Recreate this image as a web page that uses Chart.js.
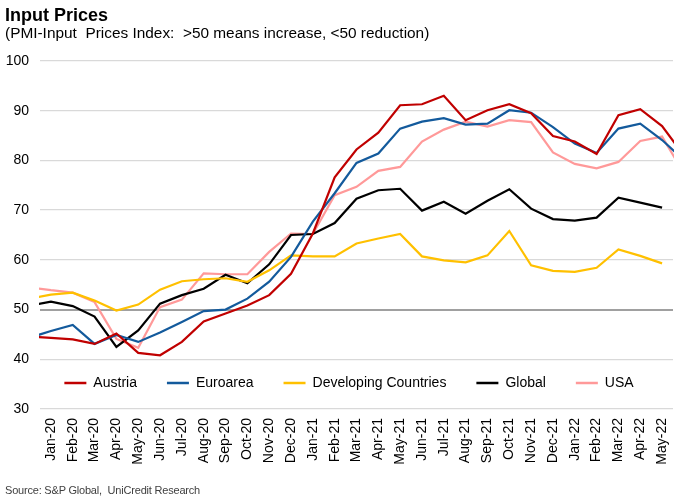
<!DOCTYPE html>
<html>
<head>
<meta charset="utf-8">
<script src="https://cdn.jsdelivr.net/npm/chart.js@4.4.1/dist/chart.umd.min.js"></script>
<style>
html,body{margin:0;padding:0;background:#ffffff;}
#wrap{position:relative;width:698px;height:504px;overflow:hidden;font-family:"Liberation Sans",Arial,sans-serif;}
#c{position:absolute;left:0;top:0;}
.t{position:absolute;left:5px;white-space:pre;color:#000;}
</style>
</head>
<body>
<div id="wrap">
<canvas id="c" width="698" height="504"></canvas>
<div class="t" style="top:6px;font-size:18px;line-height:18px;font-weight:bold;">Input Prices</div>
<div class="t" style="top:25px;font-size:15.4px;line-height:15px;">(PMI-Input  Prices Index:  &gt;50 means increase, &lt;50 reduction)</div>
<div class="t" style="top:485px;font-size:11px;line-height:11px;color:#404040;letter-spacing:-0.2px;">Source: S&amp;P Global,  UniCredit Research</div>
</div>
<script>
// ---- data ----
const categories = ['Dec-19','Jan-20','Feb-20','Mar-20','Apr-20','May-20','Jun-20','Jul-20','Aug-20','Sep-20','Oct-20','Nov-20','Dec-20',
  'Jan-21','Feb-21','Mar-21','Apr-21','May-21','Jun-21','Jul-21','Aug-21','Sep-21','Oct-21','Nov-21','Dec-21',
  'Jan-22','Feb-22','Mar-22','Apr-22','May-22','Jun-22'];
const firstShown = 'Jan-20';
const lastShown = 'May-22';
const austria    = [44.6,44.3,44.0,43.1,45.2,41.3,40.8,43.5,47.6,49.2,50.8,52.9,57.2,65.3,76.6,82.2,85.6,91.1,91.3,93.0,88.1,90.1,91.3,89.5,84.9,83.8,81.3,89.1,90.3,86.9,81.0];
const euroarea   = [44.3,45.7,46.9,43.1,44.9,43.5,45.4,47.5,49.7,50.0,52.2,55.6,60.6,67.7,73.4,79.5,81.4,86.4,87.8,88.5,87.2,87.4,90.1,89.6,86.7,83.4,81.5,86.4,87.4,84.1,80.1];
const developing = [52.2,53.0,53.4,51.8,49.8,51.0,54.0,55.7,56.1,56.3,55.6,57.9,60.9,60.7,60.7,63.3,64.3,65.2,60.7,59.9,59.5,60.9,65.8,58.9,57.8,57.6,58.4,62.1,60.8,59.3];
const globalPMI  = [50.8,51.6,50.7,48.6,42.5,45.8,51.2,52.9,54.2,57.0,55.3,59.1,65.0,65.2,67.4,72.3,74.0,74.3,69.9,71.7,69.3,71.9,74.2,70.3,68.2,67.9,68.5,72.5,71.5,70.5];
const usa        = [54.5,53.9,53.4,51.5,44.1,42.3,50.5,52.0,57.3,57.1,57.1,61.6,65.3,65.2,73.0,74.7,77.9,78.7,83.8,86.2,87.8,86.8,88.1,87.7,81.6,79.3,78.4,79.7,83.9,84.8,77.4];
const seriesNames = ['Austria','Euroarea','Developing Countries','Global','USA'];
const yMin = 30, yMax = 100, yStep = 10, refLine = 50;

// ---- styling ----
const FONT = "'Liberation Sans', Arial, sans-serif";
const colors = ['#C00000','#135A9C','#FFC000','#000000','#FF9999'];
const seriesData = [austria, euroarea, developing, globalPMI, usa];

const legendInPlot = {
  id: 'legendInPlot',
  beforeUpdate(chart) {
    const lg = chart.legend;
    if (lg && !lg.__patched) {
      const orig = lg.fit.bind(lg);
      lg.fit = function () { orig(); this.__h = this.height; this.height = 0; };
      lg.__patched = true;
    }
  },
  afterLayout(chart) {
    const lg = chart.legend;
    if (!lg) return;
    const pad = lg.options.labels.padding;
    const top = 383 - pad - 7;
    lg.top = top;
    lg.bottom = top + (lg.__h || 0);
    lg.left = 0;
    lg.right = chart.width;
    lg.width = chart.width;
  }
};

new Chart(document.getElementById('c'), {
  type: 'line',
  data: {
    labels: categories,
    datasets: seriesNames.map((n, i) => ({
      label: n,
      data: seriesData[i],
      borderColor: colors[i],
      backgroundColor: colors[i],
      borderWidth: 2.2,
      pointRadius: 0,
      tension: 0,
      fill: false
    }))
  },
  options: {
    responsive: false,
    animation: false,
    devicePixelRatio: 1,
    layout: { padding: { top: 61, right: 25, bottom: 0, left: 0 } },
    plugins: {
      tooltip: { enabled: false },
      legend: {
        position: 'bottom',
        labels: {
          font: { family: FONT, size: 14 },
          color: '#000',
          boxWidth: 22,
          boxHeight: 2.5,
          padding: 30,
          generateLabels: (chart) => Chart.defaults.plugins.legend.labels.generateLabels(chart).map(l => Object.assign(l, { lineWidth: 0 }))
        }
      }
    },
    scales: {
      x: {
        type: 'category',
        offset: true,
        grid: { display: false, drawTicks: false },
        border: { display: false },
        ticks: { font: { family: FONT, size: 14 }, color: '#000', minRotation: 90, maxRotation: 90, autoSkip: false, padding: 9 },
        afterDataLimits: (s) => { s.min = categories.indexOf(firstShown); s.max = categories.indexOf(lastShown); },
        afterFit: (s) => { s.height = 95; }
      },
      y: {
        min: yMin, max: yMax,
        ticks: { stepSize: yStep, font: { family: FONT, size: 14 }, color: '#000', padding: 11 },
        grid: {
          drawTicks: false,
          color: (ctx) => (ctx.tick && ctx.tick.value === refLine) ? '#A0A0A0' : '#D9D9D9',
          lineWidth: (ctx) => (ctx.tick && ctx.tick.value === refLine) ? 2 : 1.3
        },
        border: { display: false },
        afterFit: (s) => { s.width = 40; }
      }
    }
  },
  plugins: [legendInPlot]
});
</script>
</body>
</html>
